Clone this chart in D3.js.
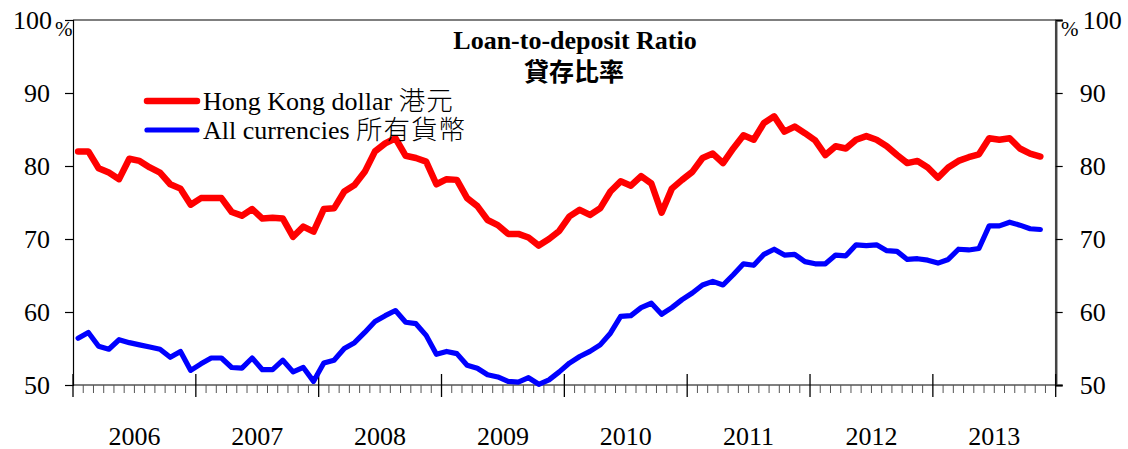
<html><head><meta charset="utf-8"><title>Loan-to-deposit Ratio</title>
<style>
body { margin: 0; background: #fff; }
text { font-family: "Liberation Serif", "Times New Roman", serif; fill: #000; }
.cjk { font-family: "Noto Sans CJK TC", "Noto Sans CJK SC", sans-serif; }
</style>
<script src="https://d3js.org/d3.v7.min.js"></script>
</head>
<body>
<div id="chart"></div>
<script>
// monthly data, Jan 2006 .. Nov 2013
const hkd = [82.0, 82.0, 79.7, 79.1, 78.2, 81.0, 80.7, 79.8, 79.1, 77.5, 76.9, 74.7,
  75.6, 75.6, 75.6, 73.7, 73.2, 74.1, 72.8, 72.9, 72.8, 70.3, 71.7, 71.0,
  74.1, 74.2, 76.5, 77.4, 79.2, 82.0, 83.1, 83.8, 81.4, 81.1, 80.6, 77.5,
  78.2, 78.1, 75.6, 74.5, 72.6, 71.9, 70.7, 70.7, 70.2, 69.1, 70.0, 71.1,
  73.1, 74.0, 73.3, 74.2, 76.5, 77.9, 77.3, 78.6, 77.6, 73.6, 76.9, 78.1,
  79.2, 81.1, 81.7, 80.4, 82.4, 84.2, 83.6, 85.9, 86.8, 84.7, 85.4,
  84.5, 83.5, 81.5, 82.7, 82.4, 83.6, 84.1, 83.6, 82.7, 81.5, 80.4, 80.7,
  79.8, 78.4, 79.8, 80.7, 81.2, 81.6, 83.8, 83.6, 83.8, 82.4, 81.7, 81.3];
const allCur = [56.4, 57.2, 55.3, 54.9, 56.2, 55.8, 55.5, 55.2, 54.9, 53.8, 54.6, 52.0,
  52.9, 53.7, 53.7, 52.4, 52.3, 53.7, 52.1, 52.1, 53.4, 51.8, 52.4, 50.5,
  53.0, 53.4, 55.0, 55.8, 57.2, 58.7, 59.5, 60.2, 58.6, 58.4, 56.8, 54.2,
  54.6, 54.3, 52.7, 52.3, 51.4, 51.1, 50.5, 50.4, 51.0, 50.1, 50.7, 51.8,
  53.0, 53.9, 54.6, 55.5, 57.1, 59.4, 59.5, 60.6, 61.2, 59.7, 60.6, 61.7,
  62.6, 63.7, 64.2, 63.7, 65.1, 66.6, 66.4, 67.9, 68.6, 67.8, 67.9,
  66.9, 66.6, 66.6, 67.8, 67.7, 69.2, 69.1, 69.2, 68.4, 68.3, 67.2, 67.3,
  67.1, 66.7, 67.2, 68.6, 68.5, 68.7, 71.8, 71.8, 72.3, 71.9, 71.4, 71.3];
const years = ["2006", "2007", "2008", "2009", "2010", "2011", "2012", "2013"];
const yTicks = [50, 60, 70, 80, 90, 100];
const seriesNames = ["Hong Kong dollar 港元", "All currencies 所有貨幣"];
const seriesColors = ["#ff0000", "#0000ff"];

const width = 1128, height = 449;
const mLeft = 73, mRight = 1055.7, mTop = 20, mBottom = 385;

const svg = d3.select("#chart").append("svg")
  .attr("width", width).attr("height", height);

const x = d3.scaleLinear().domain([0, years.length * 12]).range([mLeft, mRight]);
const y = d3.scaleLinear().domain([50, 100]).range([mBottom, mTop]);

// frame: top border, left axis, right axis
svg.append("line").attr("x1", mLeft).attr("x2", mRight).attr("y1", mTop).attr("y2", mTop)
  .attr("stroke", "#000").attr("stroke-width", 1.2);

const yl = svg.append("g").attr("transform", `translate(${mLeft},0)`)
  .call(d3.axisLeft(y).tickValues(yTicks).tickSize(8).tickPadding(15).tickFormat(d3.format("d")));
const yr = svg.append("g").attr("transform", `translate(${mRight},0)`)
  .call(d3.axisRight(y).tickValues(yTicks).tickSize(7).tickPadding(17).tickFormat(d3.format("d")));
[yl, yr].forEach(g => {
  g.attr("font-family", null);
  g.select(".domain").attr("stroke", "#000").attr("stroke-width", 1.2);
  g.selectAll(".tick line").attr("stroke", "#000").attr("stroke-width", 1.2);
  g.selectAll(".tick text").attr("font-size", 26).attr("fill", "#000");
});
yr.select(".domain").attr("stroke", "#444").attr("stroke-width", 2.5);
yl.selectAll(".tick").filter(d => d === 100).select("text").attr("dx", 2);
yr.selectAll(".tick").filter(d => d === 100).select("text").attr("dx", 3);

svg.append("text").attr("x", 55).attr("y", 36).attr("font-size", 21).text("%");
svg.append("text").attr("x", 1061).attr("y", 36).attr("font-size", 21).text("%");

// bottom axis: monthly minor ticks, yearly major ticks
const xb = svg.append("g").attr("transform", `translate(0,${mBottom})`);
xb.append("line").attr("x1", mLeft).attr("x2", mRight)
  .attr("stroke", "#000").attr("stroke-width", 1.2);
xb.selectAll(".minor").data(d3.range(0, years.length * 12 + 1)).join("line")
  .attr("x1", d => x(d)).attr("x2", d => x(d))
  .attr("y1", d => d % 12 === 0 ? -11 : 0).attr("y2", d => d % 12 === 0 ? 12 : 8)
  .attr("stroke", d => d % 12 === 0 ? "#000" : "#555").attr("stroke-width", d => d % 12 === 0 ? 1.3 : 1);
xb.selectAll(".yr").data(years).join("text")
  .attr("x", (d, i) => x(i * 12 + 6)).attr("y", 60)
  .attr("text-anchor", "middle").attr("font-size", 26).text(d => d);

// series lines
const line = d3.line().x((d, i) => x(i + 0.5)).y(d => y(d));
svg.append("path").datum(allCur).attr("d", line)
  .attr("fill", "none").attr("stroke", seriesColors[1]).attr("stroke-width", 5.2)
  .attr("stroke-linejoin", "round").attr("stroke-linecap", "round");
svg.append("path").datum(hkd).attr("d", line)
  .attr("fill", "none").attr("stroke", seriesColors[0]).attr("stroke-width", 6.5)
  .attr("stroke-linejoin", "round").attr("stroke-linecap", "round");

// title
svg.append("text").attr("x", 575).attr("y", 49).attr("text-anchor", "middle")
  .attr("font-size", 26).attr("font-weight", "bold").text("Loan-to-deposit Ratio");
svg.append("text").attr("class", "cjk").attr("x", 574).attr("y", 81).attr("text-anchor", "middle")
  .attr("font-size", 25).attr("font-weight", "bold").text("貸存比率");

// legend
const leg = svg.append("g");
seriesNames.forEach((name, i) => {
  const ly = 101 + i * 29;
  leg.append("line").attr("x1", 147).attr("x2", 197).attr("y1", ly).attr("y2", ly)
    .attr("stroke", seriesColors[i]).attr("stroke-width", i === 0 ? 6.5 : 5.2)
    .attr("stroke-linecap", "round");
  const parts = name.split(" ");
  const cjk = parts.pop();
  const t = leg.append("text").attr("x", 203).attr("y", ly + 9).attr("font-size", 26).attr("fill", "#222");
  t.append("tspan").text(parts.join(" ") + " ");
  t.append("tspan").attr("class", "cjk").attr("font-size", 26.5).attr("font-weight", 300)
    .attr("letter-spacing", 1).text(cjk);
});
</script>
</body></html>
